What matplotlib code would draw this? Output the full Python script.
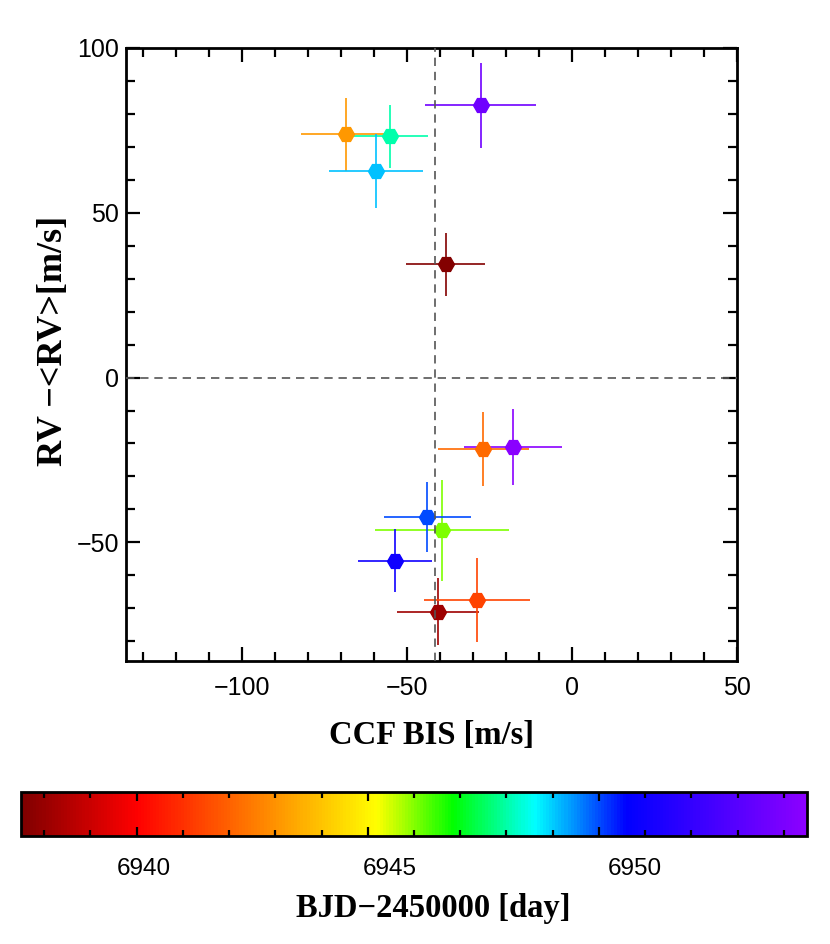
import numpy as np
import matplotlib
matplotlib.use("Agg")
import matplotlib.pyplot as plt
from matplotlib.colors import LinearSegmentedColormap, Normalize
from matplotlib.cm import ScalarMappable
from matplotlib.ticker import MultipleLocator

plt.rcParams["font.family"] = ["Liberation Sans", "DejaVu Sans"]

# observation epochs (BJD-2450000), bisector span and RV residuals
bjd = [6937.6, 6938.1, 6941.4, 6942.2, 6943.1, 6946.0,
       6948.0, 6949.1, 6950.0, 6951.0, 6953.7, 6954.4]
bis = [-38.2, -40.5, -28.7, -26.8, -68.3, -39.3,
       -55.0, -59.2, -43.7, -53.6, -27.6, -17.9]
bis_err = [12.0, 12.4, 16.1, 13.8, 13.6, 20.2,
           11.6, 14.2, 13.2, 11.2, 16.8, 14.8]
rv = [34.3, -71.0, -67.5, -21.7, 73.8, -46.4,
      73.2, 62.6, -42.2, -55.6, 82.6, -21.1]
rv_err = [9.7, 10.2, 12.6, 11.1, 11.0, 15.2,
          9.5, 11.2, 10.6, 9.5, 12.9, 11.6]

bjd_min, bjd_max = 6937.5, 6954.5
# the printed colour-bar labels run over one day less than its tick marks
label_min, label_max = 6937.5, 6953.5

# rainbow-like table: dark red -> red -> yellow -> green -> cyan -> blue -> violet
cmap = LinearSegmentedColormap.from_list("idl_rainbow", [
    (0.0, (0.5, 0.0, 0.0)),
    (0.147, (1.0, 0.0, 0.0)),
    (0.453, (1.0, 1.0, 0.0)),
    (0.55, (0.0, 1.0, 0.0)),
    (0.654, (0.0, 1.0, 1.0)),
    (0.771, (0.0, 0.0, 1.0)),
    (1.0, (0.55, 0.0, 1.0)),
])
norm = Normalize(bjd_min, bjd_max)

fig = plt.figure(figsize=(8.3, 9.44), dpi=100)
ax = fig.add_axes([0.1518, 0.2998, 0.736, 0.6494])

for t, x, xe, y, ye in zip(bjd, bis, bis_err, rv, rv_err):
    c = cmap(norm(t))
    ax.errorbar(x, y, xerr=xe, yerr=ye, fmt="none", ecolor=c,
                elinewidth=1.2, capsize=0, zorder=2)
    ax.plot(x, y, marker="H", ms=11.5, color=c, mec=c, ls="none", zorder=3)

ax.axhline(0, color="#555555", ls=(0, (5, 3.5)), lw=1.2, zorder=5)
ax.axvline(np.mean(bis), color="#555555", ls=(0, (5, 3.5)), lw=1.2, zorder=5)

ax.set_xlim(-135, 50)
ax.set_ylim(-86, 100)
ax.xaxis.set_major_locator(MultipleLocator(50))
ax.xaxis.set_minor_locator(MultipleLocator(10))
ax.yaxis.set_major_locator(MultipleLocator(50))
ax.yaxis.set_minor_locator(MultipleLocator(10))
ax.tick_params(which="both", direction="in", top=True, right=True, width=1.6)
ax.tick_params(which="major", length=10, labelsize=18)
ax.tick_params(which="minor", length=6.5)
ax.tick_params(axis="x", which="major", pad=11)
ax.tick_params(axis="y", which="major", pad=5)
for s in ax.spines.values():
    s.set_linewidth(2)

serif = ["Liberation Serif", "DejaVu Serif"]
ax.set_xlabel("CCF BIS [m/s]", fontsize=23.5, fontweight="bold",
              family=serif, labelpad=14)
ax.set_ylabel("RV −<RV>[m/s]", fontsize=26, fontweight="bold",
              family=serif, labelpad=5)
ax.yaxis.label.set_y(0.522)

cax = fig.add_axes([0.0253, 0.1144, 0.947, 0.0463])
cb = fig.colorbar(ScalarMappable(norm=norm, cmap=cmap), cax=cax,
                  orientation="horizontal")
cb.set_ticks([6940, 6945, 6950])
cax.xaxis.set_minor_locator(MultipleLocator(1))
cax.tick_params(which="both", direction="in", top=True, bottom=True,
                width=1.6, labelbottom=False)
cax.tick_params(which="major", length=6.5)
cax.tick_params(which="minor", length=4.3)
cb.outline.set_linewidth(2)


def to_label(v):
    return label_min + (v - bjd_min) * (label_max - label_min) / (bjd_max - bjd_min)


def from_label(v):
    return bjd_min + (v - label_min) * (bjd_max - bjd_min) / (label_max - label_min)


sec = cax.secondary_xaxis("bottom", functions=(to_label, from_label))
sec.set_xticks([6940, 6945, 6950])
sec.tick_params(length=0, labelsize=17.5, pad=16)
sec.spines["bottom"].set_visible(False)
sec.set_xlabel("BJD−2450000 [day]", fontsize=23.5, fontweight="bold",
               family=serif, labelpad=9)
sec.xaxis.label.set_x(0.524)

fig.savefig("out.png", dpi=100)
